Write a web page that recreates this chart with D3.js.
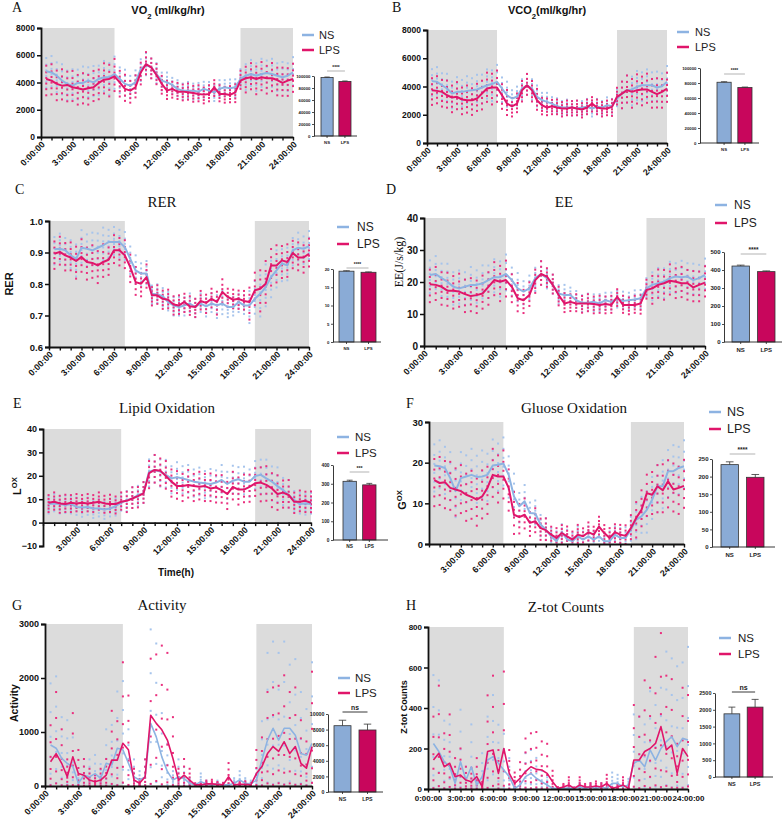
<!DOCTYPE html>
<html><head><meta charset="utf-8">
<script src="https://cdn.jsdelivr.net/npm/d3@7"></script>
<style>body{margin:0;background:#fff}svg{display:block}</style>
</head><body><svg id="c" width="784" height="824"></svg>
<script>
// ---------- DATA ----------
const HOURS = [0.5,1,1.5,2,2.5,3,3.5,4,4.5,5,5.5,6,6.5,7,7.5,8,8.5,9,9.5,10,10.5,11,11.5,12,12.5,13,13.5,14,14.5,15,15.5,16,16.5,17,17.5,18,18.5,19,19.5,20,20.5,21,21.5,22,22.5,23,23.5,24];
const TIME_TICKS = [0,3,6,9,12,15,18,21,24];
const TIME_LABELS = ["0:00:00","3:00:00","6:00:00","9:00:00","12:00:00","15:00:00","18:00:00","21:00:00","24:00:00"];
const NIGHT = [[0,7],[19,24]];
const GROUPS = ["NS","LPS"];

const A_NS = [4820,4740,4500,4140,3900,3770,3970,3970,4140,4010,4260,4380,4380,4620,4260,3900,3770,4010,4990,5280,5110,4620,4140,4010,3820,3530,3400,3400,3400,3330,3530,3400,3280,3530,3650,3580,3650,4260,4500,4620,4500,4620,4700,4620,4500,4380,4500,4740];
const A_LPS = [4260,4140,3900,3770,3820,3650,3580,3480,3580,3650,3970,4210,4260,4450,4010,3530,3400,3650,4740,5350,5110,4550,3900,3400,3530,3330,3330,3280,3230,3160,3110,3160,3650,3160,3160,3090,3280,4140,4310,4380,4260,4380,4310,4310,4180,3970,4140,4260];
const A_SPREAD = [750,750,750,750,750,750,800,650,550,550,500,450,400,400,400,400,400,400,450,650,700,700,700,700];

const B_NS = [4380,4330,4090,3860,3500,3620,3620,3690,3740,3790,3930,4090,4170,4330,3860,3380,3150,3270,3860,4090,3860,3270,3030,2910,2790,2600,2510,2510,2510,2440,2510,2560,2440,2560,2510,2670,2600,3150,3500,3740,3790,3980,4090,4090,4090,3930,4020,4330];
const B_LPS = [3740,3690,3620,3380,3220,3270,3080,3030,3030,3150,3500,3860,3930,3930,3380,2790,2600,2790,3740,4090,3740,3030,2670,2510,2600,2510,2440,2440,2510,2440,2370,2510,2790,2510,2440,2440,2560,3270,3500,3740,3620,3740,3790,3790,3620,3460,3620,3860];
const B_SPREAD = [650,650,650,650,650,700,750,600,450,500,500,400,350,350,350,350,350,350,400,650,700,700,700,700];

const C_NS = [.910,.912,.907,.891,.880,.915,.912,.907,.915,.923,.933,.933,.933,.917,.880,.843,.833,.833,.769,.767,.761,.743,.732,.727,.732,.738,.727,.738,.729,.738,.732,.738,.727,.727,.743,.732,.732,.753,.769,.790,.822,.843,.865,.859,.907,.915,.912,.920];
const C_LPS = [.896,.902,.891,.884,.873,.886,.870,.867,.859,.870,.877,.907,.907,.891,.854,.806,.801,.822,.764,.764,.753,.750,.735,.732,.743,.729,.727,.746,.740,.753,.743,.775,.759,.750,.753,.746,.743,.780,.785,.801,.859,.859,.875,.870,.898,.884,.884,.896];
const C_SPREAD = [.03,.03,.035,.035,.035,.03,.03,.03,.025,.02,.02,.02,.02,.02,.02,.025,.02,.02,.035,.045,.04,.035,.03,.03];

const D_NS = [22.2,22.5,21.2,20.1,18.5,18.0,18.5,19.1,19.1,19.6,20.6,21.5,21.5,22.5,20.6,18.0,17.0,18.0,21.2,22.5,21.2,19.1,16.4,15.9,15.9,14.3,13.5,13.5,13.8,13.3,14.3,13.8,14.9,14.1,14.3,14.5,14.9,18.0,19.1,19.6,20.1,21.2,21.7,21.5,21.7,20.6,21.2,22.2];
const D_LPS = [19.3,19.1,18.5,17.3,17.3,17.0,16.2,15.6,15.9,16.4,18.5,20.6,20.1,20.6,18.5,14.9,14.3,15.9,20.6,22.5,21.7,19.1,15.9,13.3,13.8,13.3,13.3,13.3,13.1,12.8,13.1,12.8,15.4,12.8,12.8,12.8,13.3,17.5,18.0,19.1,19.6,20.4,20.1,19.6,19.6,18.3,19.1,19.8];
const D_SPREAD = [3.5,3.5,3.5,3.5,3.5,3.5,3.8,3,2.5,2.5,2,2,1.8,1.8,1.8,1.8,1.8,1.8,2,3,3.2,3.2,3.2,3.2];

const E_NS = [7.9,8.2,7.9,7.5,7.9,6.7,6.5,6.7,6.0,6.0,5.6,6.0,7.0,8.5,9.6,10.3,11.8,12.5,21.8,22.5,21.8,20.4,18.9,19.4,18.9,18.2,17.5,17.1,16.8,16.5,17.1,18.2,16.5,17.9,18.5,17.5,17.5,19.9,20.4,18.9,17.5,15.6,13.9,11.8,9.6,7.9,8.2,7.9];
const E_LPS = [8.5,8.9,8.2,7.9,8.5,8.2,8.5,8.2,8.5,8.9,8.2,7.9,7.9,8.9,9.3,10.3,11.3,12.5,21.1,22.5,22.2,19.9,17.5,15.6,15.6,16.1,15.6,15.3,15.6,14.6,15.0,13.9,12.2,15.3,14.1,14.1,15.3,16.8,17.1,16.1,14.6,12.2,12.8,11.8,8.9,8.9,9.3,8.5];
const E_SPREAD = [2.5,2.5,2.5,2.5,2.5,2.5,2.5,3,3,4,4,4,4,4,4,4,4,4,4,5,5,4,3,3];

const F_NS = [19.3,19.1,18.7,16.2,13.0,16.2,16.6,17.0,16.5,16.6,17.0,19.3,19.5,19.8,17.0,11.7,9.3,10.5,7.6,7.5,4.8,3.5,1.9,0.7,2.9,1.1,0.7,1.9,1.1,1.9,1.1,1.9,0.7,0.7,2.3,1.5,1.5,3.5,6.0,6.8,8.4,10.9,14.2,14.2,17.9,17.9,18.7,19.1];
const F_LPS = [15.7,15.0,15.2,13.8,13.4,13.0,12.1,11.6,10.9,11.7,13.8,17.0,16.6,16.6,13.8,7.2,6.6,7.2,5.2,5.6,3.9,3.4,2.3,1.5,2.7,1.9,1.1,2.3,1.9,2.9,2.3,4.3,2.7,1.5,2.9,2.3,2.0,3.9,6.4,8.4,12.5,12.1,14.2,13.2,15.4,13.4,13.8,14.3];
const F_SPREAD = [4,4,4,4,4,4,4,3.5,2.5,2,1.8,1.5,1.5,1.5,1.5,1.5,1.5,1.5,2,3,3.5,4,4,4];

const G_NS = [760,700,510,420,360,50,200,170,230,140,420,390,700,670,420,170,110,170,1160,910,540,270,110,170,140,50,20,80,40,20,40,20,20,50,110,50,40,110,480,850,1070,850,1070,1070,940,600,570,790];
const G_LPS = [450,600,420,170,540,230,200,110,80,110,200,480,480,790,670,110,50,170,1310,1160,1040,850,510,110,200,110,20,20,40,40,30,20,170,20,30,30,20,230,360,600,730,640,820,600,730,420,330,730];

const H_NS = [225,185,135,110,28,135,44,110,20,61,143,160,127,94,61,3,20,61,77,53,36,20,3,3,3,5,3,10,3,10,3,10,3,28,28,10,20,127,143,110,193,143,200,234,258,209,250,242];
const H_LPS = [143,176,110,127,61,69,44,36,61,12,185,193,77,200,77,28,53,86,110,97,94,77,36,3,10,20,3,20,10,10,15,10,28,3,10,20,3,143,143,185,200,225,308,193,217,77,200,160];

// per-animal deviations (in units of spread) and ratios for skewed count data
const ANIMAL_Z = [[-1.6,-1.0,-0.45,0.1,0.65,1.3],[-1.35,-0.75,-0.2,0.35,0.9,1.6]];
const ANIMAL_RATIO = [[0.03,0.3,0.7,1.2,1.8,2.5],[0.08,0.45,0.9,1.45,2.1,2.9]];

const BAR_A = [97500,91000], ERR_A = [800,700];
const BAR_B = [81000,74000], ERR_B = [700,600];
const BAR_C = [19.4,19.1], ERR_C = [0.12,0.1];
const BAR_D = [422,391], ERR_D = [5,4];
const BAR_E = [313,294], ERR_E = [6,8];
const BAR_F = [234,198], ERR_F = [8,8];
const BAR_G = [8500,7950], ERR_G = [700,750];
const BAR_H = [1880,2080], ERR_H = [200,230];

// ---------- STYLE ----------
const NS_LINE = "#8db3e2", LPS_LINE = "#e0156a";
const NS_DOT = "#a6c4ec", LPS_DOT = "#ea2f7e";
const NS_BAR = "#8aabd6", LPS_BAR = "#c8065c";
const SHADE = "#dcdcdc";
const SANS = "Arial, 'Liberation Sans', Helvetica, sans-serif";
const SERIF = "'Times New Roman', 'Liberation Serif', serif";

const svg = d3.select("#c");

const panels = [
 {letter:"A", lp:[12,12], ns:A_NS, lps:A_LPS, spread:A_SPREAD, mode:"add",
  x0:41,x1:293,yT:28,yB:137, yDomain:[0,8000], yTicks:[0,2000,4000,6000,8000], yFmt:d3.format("d"), tickFont:8.5,
  xMode:"rot", xFrom:0,
  bar:BAR_A, err:ERR_A, bAx:314,bT:76,bB:136,bx0:321,bx1:351,bEnd:357,bMax:100000,bTicks:[0,20000,40000,60000,80000,100000], bFont:4.3, sigY:71, sig:"****", sigColor:"#aaa",
  lx:302, ly:[35,50], tx:319, lFont:11,
  title:[["VO",{}],["2",{sub:true}],[" (ml/kg/hr)",{}]], tX:168,tY:14, tFont:"bold 11px "+SANS},
 {letter:"B", lp:[392,12], ns:B_NS, lps:B_LPS, spread:B_SPREAD, mode:"add",
  x0:427,x1:667,yT:30,yB:143, yDomain:[0,8000], yTicks:[0,2000,4000,6000,8000], yFmt:d3.format("d"), tickFont:8.5,
  xMode:"rot", xFrom:0,
  bar:BAR_B, err:ERR_B, bAx:700,bT:68,bB:143,bx0:717,bx1:752,bEnd:759,bMax:100000,bTicks:[0,20000,40000,60000,80000,100000], bFont:4.3, sigY:74, sig:"****", sigColor:"#aaa",
  lx:677, ly:[32,47], tx:695, lFont:11,
  title:[["VCO",{}],["2",{sub:true}],["(ml/kg/hr)",{}]], tX:547,tY:14, tFont:"bold 11px "+SANS},
 {letter:"C", lp:[15,194], ns:C_NS, lps:C_LPS, spread:C_SPREAD, mode:"add",
  x0:49,x1:309,yT:221,yB:347, yDomain:[0.6,1.0], yTicks:[0.6,0.7,0.8,0.9,1.0], yFmt:d3.format(".1f"), tickFont:9.5,
  xMode:"rot", xFrom:0,
  bar:BAR_C, err:ERR_C, bAx:333,bT:269,bB:342,bx0:339,bx1:376,bEnd:381,bMax:20,bTicks:[0,5,10,15,20], bFont:4.3, sigY:268, sig:"****", sigColor:"#aaa",
  lx:337, ly:[227,244], tx:357, lFont:12,
  title:[["RER",{}]], tX:162,tY:207, tFont:"15px "+SERIF,
  yLabel:[["RER",{}]], yLx:9, yLy:284, yLFont:"bold 11px "+SANS},
 {letter:"D", lp:[386,194], ns:D_NS, lps:D_LPS, spread:D_SPREAD, mode:"add",
  x0:424,x1:705,yT:218,yB:346, yDomain:[0,40], yTicks:[0,10,20,30,40], yFmt:d3.format("d"), tickFont:10,
  xMode:"rot", xFrom:0,
  bar:BAR_D, err:ERR_D, bAx:724,bT:252,bB:342,bx0:732,bx1:775,bEnd:782,bMax:500,bTicks:[0,100,200,300,400,500], bFont:6, sigY:254, sig:"****", sigColor:"#aaa",
  lx:715, ly:[205,223], tx:734, lFont:12,
  title:[["EE",{}]], tX:564,tY:207, tFont:"15px "+SERIF,
  yLabel:[["EE(J/s/kg)",{}]], yLx:399, yLy:262, yLFont:"12px "+SERIF},
 {letter:"E", lp:[13,408], ns:E_NS, lps:E_LPS, spread:E_SPREAD, mode:"add",
  x0:43,x1:311,yT:429,yB:546, yDomain:[-10,40], yTicks:[-10,0,10,20,30,40], yFmt:d3.format("d"), tickFont:9, xAt:0, shadeBase:0,
  xMode:"rot", xFrom:3,
  bar:BAR_E, err:ERR_E, bAx:333,bT:465,bB:540,bx0:343,bx1:376,bEnd:388,bMax:400,bTicks:[0,100,200,300,400], bFont:4.8, sigY:472, sig:"***", sigColor:"#aaa",
  lx:337, ly:[437,453], tx:355, lFont:11.5,
  title:[["Lipid Oxidation",{}]], tX:167,tY:413, tFont:"15px "+SERIF,
  yLabel:[["L",{}],["OX",{sup:true}]], yLx:17, yLy:486, yLFont:"bold 11px "+SANS,
  xTitle:"Time(h)", xTx:176, xTy:576},
 {letter:"F", lp:[406,408], ns:F_NS, lps:F_LPS, spread:F_SPREAD, mode:"add",
  x0:429,x1:684,yT:422,yB:544, yDomain:[0,30], yTicks:[0,10,20,30], yFmt:d3.format("d"), tickFont:9.5,
  xMode:"rot", xFrom:3,
  bar:BAR_F, err:ERR_F, bAx:712,bT:459,bB:547,bx0:721,bx1:764,bEnd:775,bMax:250,bTicks:[0,50,100,150,200,250], bFont:6, sigY:454, sig:"****", sigColor:"#aaa",
  lx:709, ly:[412,429], tx:727, lFont:12.5,
  title:[["Gluose Oxidation",{}]], tX:574,tY:413, tFont:"15px "+SERIF,
  yLabel:[["G",{}],["OX",{sup:true}]], yLx:402, yLy:500, yLFont:"bold 11px "+SANS},
 {letter:"G", lp:[12,610], ns:G_NS, lps:G_LPS, mode:"mul",
  x0:45,x1:312,yT:624,yB:786, yDomain:[0,3000], yTicks:[0,1000,2000,3000], yFmt:d3.format("d"), tickFont:9,
  xMode:"rot", xFrom:0,
  bar:BAR_G, err:ERR_G, bAx:328,bT:714,bB:792,bx0:334,bx1:376,bEnd:383,bMax:10000,bTicks:[0,2000,4000,6000,8000,10000], bFont:5.3, sigY:712, sig:"ns", sigColor:"#222",
  lx:338, ly:[678,693], tx:355, lFont:11.5,
  title:[["Activity",{}]], tX:162,tY:610, tFont:"15px "+SERIF,
  yLabel:[["Activity",{}]], yLx:14, yLy:703, yLFont:"bold 10.5px "+SANS},
 {letter:"H", lp:[406,610], ns:H_NS, lps:H_LPS, mode:"mul",
  x0:428,x1:688,yT:627,yB:789, yDomain:[0,800], yTicks:[0,200,400,600,800], yFmt:d3.format("d"), tickFont:8,
  xMode:"flat", xFrom:0,
  bar:BAR_H, err:ERR_H, bAx:715,bT:693,bB:777,bx0:724,bx1:763,bEnd:773,bMax:2500,bTicks:[0,500,1000,1500,2000,2500], bFont:5.5, sigY:692, sig:"ns", sigColor:"#222",
  lx:719, ly:[638,654], tx:738, lFont:11.5,
  title:[["Z-tot Counts",{}]], tX:566,tY:612, tFont:"15px "+SERIF,
  yLabel:[["Z-tot Counts",{}]], yLx:404, yLy:707, yLFont:"bold 9px "+SANS}
];

function richText(sel, parts, baseSize) {
  parts.forEach(([s,o]) => {
    const t = sel.append("tspan").text(s);
    if (o.sub) t.attr("font-size", baseSize*0.7).attr("baseline-shift","sub");
    if (o.sup) t.attr("font-size", baseSize*0.7).attr("baseline-shift","super");
  });
}

function drawPanel(p) {
  const g = svg.append("g");
  const x = d3.scaleLinear().domain([0,24]).range([p.x0,p.x1]);
  const y = d3.scaleLinear().domain(p.yDomain).range([p.yB,p.yT]);
  const top = p.yDomain[1];
  const base = p.shadeBase !== undefined ? p.shadeBase : p.yDomain[0];

  NIGHT.forEach(([a,b]) => {
    g.append("rect").attr("x",x(a)).attr("y",y(top)).attr("width",x(b)-x(a))
      .attr("height",y(base)-y(top)).attr("fill",SHADE);
  });

  // per-animal dots
  function dots(series, color) {
    const pts = [];
    series.forEach((v,i) => {
      const k = i % 2;
      if (p.mode === "add") {
        const s = p.spread[Math.min(23, Math.floor(HOURS[i]-0.01))];
        ANIMAL_Z[k].forEach(z => pts.push([HOURS[i], v + z*s]));
      } else {
        ANIMAL_RATIO[k].forEach(r => pts.push([HOURS[i], v*r]));
      }
    });
    g.append("g").selectAll("rect").data(pts.filter(d => d[1] >= p.yDomain[0] && d[1] <= top))
      .join("rect").attr("x",d=>x(d[0])-1).attr("y",d=>y(d[1])-1)
      .attr("width",2).attr("height",2).attr("fill",color);
  }
  dots(p.ns, NS_DOT);
  dots(p.lps, LPS_DOT);

  const line = d3.line().x((d,i)=>x(HOURS[i])).y(d=>y(d));
  const lw = p.mode === "mul" ? 1.6 : 2;
  g.append("path").attr("d",line(p.ns)).attr("fill","none").attr("stroke",NS_LINE).attr("stroke-width",lw).attr("stroke-linejoin","round");
  g.append("path").attr("d",line(p.lps)).attr("fill","none").attr("stroke",LPS_LINE).attr("stroke-width",lw).attr("stroke-linejoin","round");

  // y axis
  const ya = g.append("g").attr("transform",`translate(${p.x0},0)`)
    .call(d3.axisLeft(y).tickValues(p.yTicks).tickFormat(p.yFmt).tickSize(4).tickPadding(2));
  ya.select(".domain").attr("stroke","#111").attr("stroke-width",1.8);
  ya.selectAll(".tick line").attr("stroke","#111").attr("stroke-width",1.5);
  ya.selectAll("text").attr("font-family",SANS).attr("font-weight","bold").attr("font-size",p.tickFont).attr("fill","#111");

  // x axis
  const xAt = p.xAt !== undefined ? p.xAt : p.yDomain[0];
  const hourTicks = d3.range(0,25);
  const xa = g.append("g").attr("transform",`translate(0,${y(xAt)})`)
    .call(d3.axisBottom(x).tickValues(hourTicks).tickSize(3.5).tickSizeOuter(0)
      .tickFormat(h => {const j = TIME_TICKS.indexOf(h); return (j>=0 && h>=p.xFrom) ? TIME_LABELS[j] : "";}));
  xa.select(".domain").attr("stroke","#111").attr("stroke-width",1.8);
  xa.selectAll(".tick line").attr("stroke","#111").attr("stroke-width",1.4);
  const xt = xa.selectAll("text").attr("font-family",SANS).attr("font-weight","bold").attr("fill","#111");
  if (p.xMode === "rot") {
    xt.attr("font-size",8.8).attr("x",0).attr("y",0).attr("dy",0)
      .attr("transform","translate(4,8) rotate(-45)").attr("text-anchor","end");
  } else {
    xt.attr("font-size",p.tickFont).attr("y",6);
  }

  // legend
  [[GROUPS[0],NS_LINE],[GROUPS[1],LPS_LINE]].forEach(([name,c],i) => {
    g.append("line").attr("x1",p.lx).attr("x2",p.lx+12).attr("y1",p.ly[i]).attr("y2",p.ly[i])
      .attr("stroke",c).attr("stroke-width",2.5);
    g.append("text").attr("x",p.tx).attr("y",p.ly[i]).attr("dy","0.35em").text(name)
      .attr("font-family",SANS).attr("font-size",p.lFont).attr("fill","#222");
  });

  // titles
  const tt = g.append("text").attr("x",p.tX).attr("y",p.tY).attr("text-anchor","middle")
    .style("font",p.tFont).attr("fill","#111");
  richText(tt, p.title, parseFloat(p.tFont.match(/([\d.]+)px/)[1]));
  g.append("text").attr("x",p.lp[0]).attr("y",p.lp[1]).text(p.letter)
    .attr("font-family",SERIF).attr("font-size",14).attr("fill","#111");
  if (p.yLabel) {
    const yl = g.append("text").attr("transform",`translate(${p.yLx},${p.yLy}) rotate(-90)`)
      .attr("text-anchor","middle").attr("dy","0.35em").style("font",p.yLFont).attr("fill","#111");
    richText(yl, p.yLabel, parseFloat(p.yLFont.match(/([\d.]+)px/)[1]));
  }
  if (p.xTitle) {
    g.append("text").attr("x",p.xTx).attr("y",p.xTy).attr("text-anchor","middle").text(p.xTitle)
      .attr("font-family",SANS).attr("font-weight","bold").attr("font-size",10).attr("fill","#111");
  }

  // inset bar chart
  const xb = d3.scaleBand().domain(GROUPS).range([p.bx0,p.bx1]).paddingInner(0.32);
  const yb = d3.scaleLinear().domain([0,p.bMax]).range([p.bB,p.bT]);
  const bg = g.append("g");
  bg.selectAll("rect.bar").data(GROUPS).join("rect").attr("class","bar")
    .attr("x",d=>xb(d)).attr("width",xb.bandwidth())
    .attr("y",(d,i)=>yb(p.bar[i])).attr("height",(d,i)=>yb(0)-yb(p.bar[i]))
    .attr("fill",(d,i)=>i===0?NS_BAR:LPS_BAR).attr("stroke","#333").attr("stroke-width",0.8);
  GROUPS.forEach((d,i) => {
    const cx = xb(d)+xb.bandwidth()/2;
    const y1 = yb(p.bar[i]), y2 = yb(p.bar[i]+p.err[i]);
    bg.append("line").attr("x1",cx).attr("x2",cx).attr("y1",y1).attr("y2",y2).attr("stroke","#333").attr("stroke-width",0.8);
    bg.append("line").attr("x1",cx-xb.bandwidth()*0.22).attr("x2",cx+xb.bandwidth()*0.22).attr("y1",y2).attr("y2",y2).attr("stroke","#333").attr("stroke-width",0.8);
  });
  const by = bg.append("g").attr("transform",`translate(${p.bAx},0)`)
    .call(d3.axisLeft(yb).tickValues(p.bTicks).tickFormat(d3.format("d")).tickSize(2).tickPadding(1.5).tickSizeOuter(0));
  by.select(".domain").attr("stroke","#222").attr("stroke-width",0.9);
  by.selectAll(".tick line").attr("stroke","#222").attr("stroke-width",0.8);
  by.selectAll("text").attr("font-family",SANS).attr("font-weight","bold").attr("font-size",p.bFont).attr("fill","#222");
  bg.append("line").attr("x1",p.bAx).attr("x2",p.bEnd).attr("y1",yb(0)).attr("y2",yb(0)).attr("stroke","#222").attr("stroke-width",0.9);
  GROUPS.forEach(d => {
    const cx = xb(d)+xb.bandwidth()/2;
    bg.append("line").attr("x1",cx).attr("x2",cx).attr("y1",yb(0)).attr("y2",yb(0)+2).attr("stroke","#222").attr("stroke-width",0.8);
    bg.append("text").attr("x",cx).attr("y",yb(0)+3.5+p.bFont).attr("text-anchor","middle").text(d)
      .attr("font-family",SANS).attr("font-weight","bold").attr("font-size",p.bFont).attr("fill","#222");
  });
  const c0 = xb(GROUPS[0])+xb.bandwidth()/2, c1 = xb(GROUPS[1])+xb.bandwidth()/2;
  bg.append("line").attr("x1",c0).attr("x2",c1).attr("y1",p.sigY).attr("y2",p.sigY).attr("stroke",p.sigColor).attr("stroke-width",0.9);
  bg.append("text").attr("x",(c0+c1)/2).attr("y",p.sigY-2).attr("text-anchor","middle").text(p.sig)
    .attr("font-family",SANS).attr("font-weight","bold").attr("font-size",p.sig==="ns"?p.bFont+1.5:p.bFont+0.5).attr("fill","#222");
}

panels.forEach(drawPanel);
</script></body></html>
